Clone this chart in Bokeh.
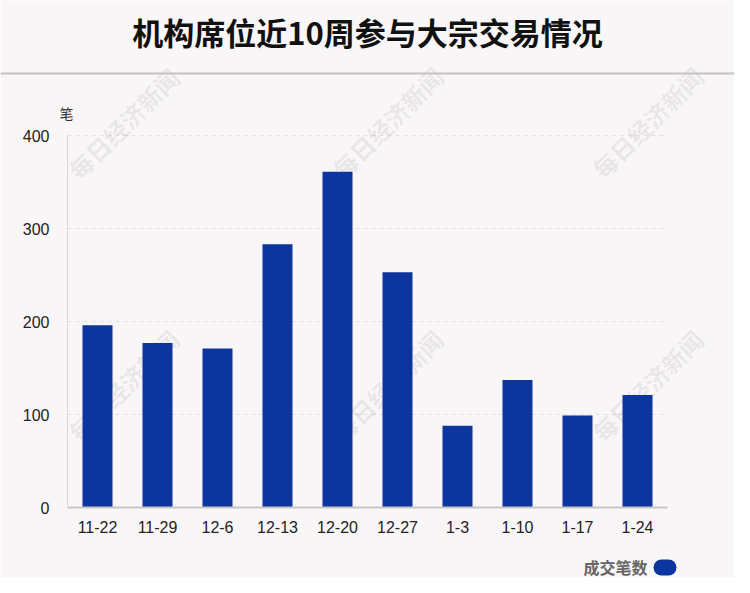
from bokeh.plotting import figure
from bokeh.models import Label, BoxAnnotation, FactorRange, Range1d, FixedTicker, ColumnDataSource, LinearAxis, CategoricalAxis, Span
from bokeh.embed import file_html
from bokeh.resources import INLINE

weeks = ["11-22", "11-29", "12-6", "12-13", "12-20", "12-27", "1-3", "1-10", "1-17", "1-24"]
counts = [196, 177, 171, 283, 361, 253, 88, 137, 99, 121]
y_ticks = [0, 100, 200, 300, 400]
title_text = "机构席位近10周参与大宗交易情况"
unit_text = "笔"
series_name = "成交笔数"
watermark_text = "每日经济新闻"

BG = "#f9f6f7"
BLUE = "#0c359f"
FONT = "Liberation Sans"
CJK = "Noto Sans CJK SC"

W, H = 734, 577
# plot region in canvas pixels
PL, PR, PT, PB = 67, 667, 135, 507
YMAX = 400
slot = (PR - PL) / len(weeks)
ppu = (PB - PT) / YMAX


def px_x(px):
    return (px - PL) / slot


def px_y(py):
    return (PB - py) / ppu


p = figure(width=W, height=H,
           x_range=FactorRange(factors=weeks, range_padding=PL / slot,
                               range_padding_units="absolute"),
           y_range=Range1d(px_y(H), px_y(0)),
           x_axis_location=None, y_axis_location=None,
           output_backend="svg", toolbar_location=None,
           min_border=0)
p.background_fill_color = BG
p.border_fill_color = BG
p.outline_line_color = None
p.xgrid.grid_line_color = None
p.ygrid.grid_line_color = None

# watermarks (behind bars)
wm_pos = [(123, 454), (387, 455), (647, 455), (123, 192), (387, 192), (647, 192)]
for wx, wy in wm_pos:
    p.add_layout(Label(x=wx, y=wy, x_units="screen", y_units="screen",
                       text=watermark_text, angle=45, angle_units="deg",
                       text_align="center", text_baseline="middle",
                       text_font=CJK, text_font_size="24px", text_font_style="bold",
                       text_color="#000000", text_alpha=0.075, level="underlay"))

# grid lines
gy = y_ticks[1:]
p.segment(x0=[0] * len(gy), x1=[px_x(664)] * len(gy), y0=gy, y1=gy,
          line_color="#e2dfe0", line_width=1, line_dash="4 4", level="underlay")

src = ColumnDataSource(data=dict(week=weeks, count=counts))
p.vbar(x="week", top="count", width=0.5, source=src, fill_color=BLUE, line_color=None)

# axes
yax = LinearAxis(fixed_location=0, bounds=(0, YMAX), ticker=FixedTicker(ticks=y_ticks))
yax.major_tick_line_color = None
yax.minor_tick_line_color = None
yax.axis_line_color = "#d9d6d7"
yax.major_label_standoff = 12
yax.major_label_text_font = FONT
yax.major_label_text_font_size = "16px"
yax.major_label_text_color = "#222222"
p.add_layout(yax, "left")

xax = CategoricalAxis(fixed_location=0, bounds=(0, len(weeks)))
xax.major_tick_line_color = None
xax.minor_tick_line_color = None
xax.axis_line_color = "#c8c5c6"
xax.axis_line_width = 2
xax.major_label_standoff = 7
xax.major_label_text_font = FONT
xax.major_label_text_font_size = "16px"
xax.major_label_text_color = "#222222"
p.add_layout(xax, "below")

# title
p.add_layout(Label(x=367, y=H - 31, x_units="screen", y_units="screen",
                   text=title_text, text_align="center", text_baseline="middle",
                   text_font=CJK, text_font_size="31px", text_font_style="bold",
                   text_color="#111111"))
# separator line
p.add_layout(Span(location=px_y(73), dimension="width", line_color="#c4c1c2", line_width=2))
# unit label
p.add_layout(Label(x=66, y=H - 112, x_units="screen", y_units="screen",
                   text=unit_text, text_align="center", text_baseline="middle",
                   text_font=CJK, text_font_size="14px", text_color="#333333"))
# legend
p.add_layout(Label(x=647, y=H - 566, x_units="screen", y_units="screen",
                   text=series_name, text_align="right", text_baseline="middle",
                   text_font=CJK, text_font_size="16px", text_font_style="bold",
                   text_color="#666666"))
p.add_layout(BoxAnnotation(left=px_x(653), right=px_x(676), top=px_y(559), bottom=px_y(575),
                           fill_color=BLUE, fill_alpha=1, line_color=None,
                           border_radius=8))

open("out.html", "w").write(file_html(p, INLINE))
